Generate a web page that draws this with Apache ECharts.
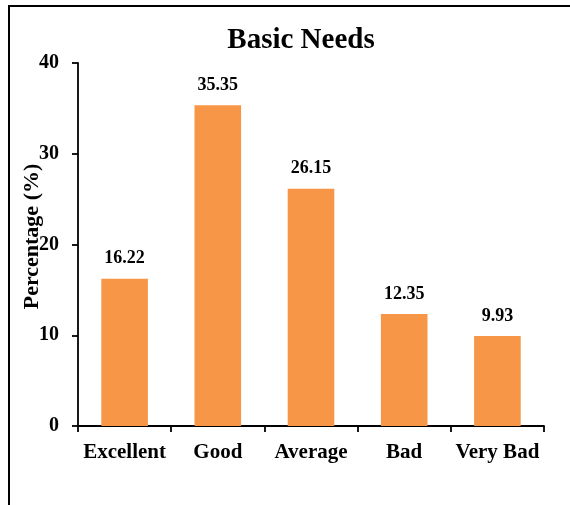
<!DOCTYPE html>
<html>
<head>
<meta charset="utf-8">
<style>
  html, body { margin: 0; padding: 0; background: #fff; }
  #chart { width: 570px; height: 505px; }
</style>
<script src="https://cdn.jsdelivr.net/npm/echarts@6/dist/echarts.min.js"></script>
</head>
<body>
<div id="chart"></div>
<script>
// Share of responses per rating for basic needs
const categories = ['Excellent', 'Good', 'Average', 'Bad', 'Very Bad'];
const percentages = [16.22, 35.35, 26.15, 12.35, 9.93];
const yTicks = { min: 0, max: 40, interval: 10 };

const serif = '"Liberation Serif", "Times New Roman", serif';
const chart = echarts.init(document.getElementById('chart'), null, { renderer: 'canvas' });

chart.setOption({
  backgroundColor: '#ffffff',
  animation: false,
  title: {
    text: 'Basic Needs',
    left: 296,
    textAlign: 'center',
    top: 21,
    textStyle: { fontFamily: serif, fontWeight: 'bold', fontSize: 29, color: '#000' }
  },
  graphic: [{
    type: 'polyline',
    shape: { points: [[9, 505], [9, 6], [570, 6]] },
    style: { stroke: '#000', lineWidth: 2, fill: null },
    silent: true
  }],
  grid: { left: 78, right: 26, top: 63, bottom: 79, containLabel: false },
  xAxis: {
    type: 'category',
    data: categories,
    axisLine: { lineStyle: { color: '#000', width: 1.8 } },
    axisTick: { show: true, inside: false, length: 6, lineStyle: { color: '#000', width: 1.8 } },
    axisLabel: { fontFamily: serif, fontWeight: 'bold', fontSize: 21, color: '#000', margin: 16, interval: 0 }
  },
  yAxis: {
    type: 'value',
    min: yTicks.min,
    max: yTicks.max,
    interval: yTicks.interval,
    name: 'Percentage (%)',
    nameLocation: 'middle',
    nameGap: 35,
    nameMoveOverlap: false,
    nameTextStyle: { fontFamily: serif, fontWeight: 'bold', fontSize: 22, color: '#000', padding: [0, 0, 0, 16] },
    splitLine: { show: false },
    axisLine: { show: true, lineStyle: { color: '#000', width: 1.8 } },
    axisTick: { show: true, inside: false, length: 6, lineStyle: { color: '#000', width: 1.8 } },
    axisLabel: { fontFamily: serif, fontWeight: 'bold', fontSize: 20, color: '#000', margin: 19 }
  },
  series: [{
    type: 'bar',
    data: percentages,
    barWidth: '50%',
    itemStyle: { color: '#F79646' },
    label: {
      show: true,
      position: 'top',
      distance: 11,
      formatter: p => p.value.toFixed(2),
      fontFamily: serif,
      fontWeight: 'bold',
      fontSize: 18,
      color: '#000'
    }
  }]
});
</script>
</body>
</html>
